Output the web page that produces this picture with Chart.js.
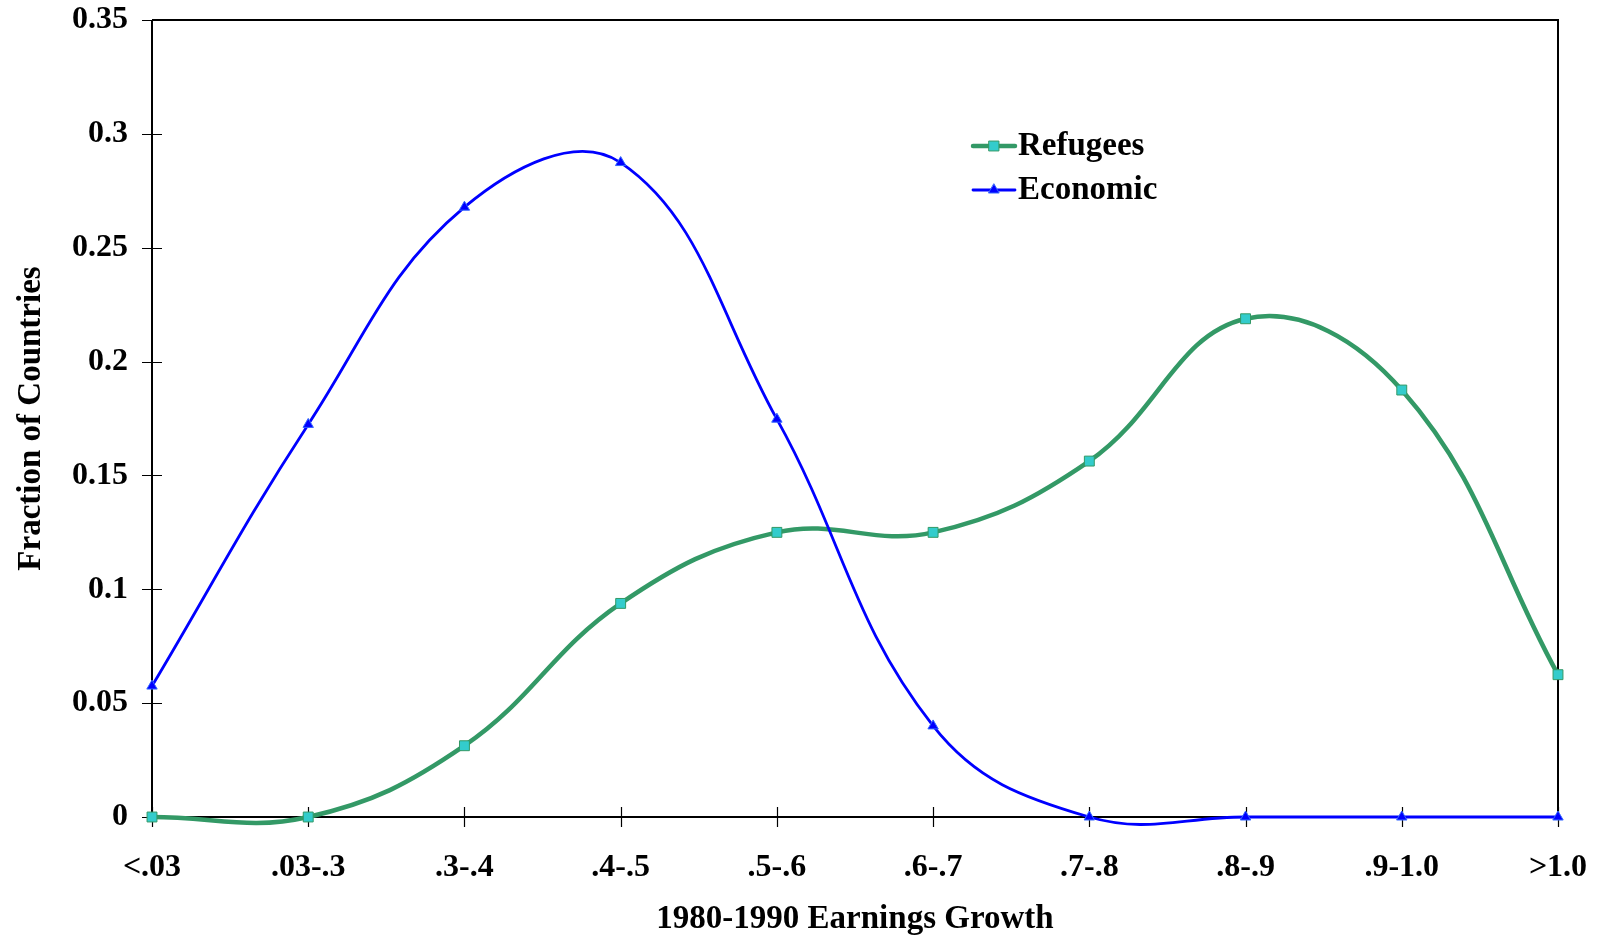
<!DOCTYPE html>
<html>
<head>
<meta charset="utf-8">
<script src="https://cdn.jsdelivr.net/npm/chart.js@4/dist/chart.umd.min.js"></script>
<style>
html,body{margin:0;padding:0;background:#fff;}
#wrap{width:1602px;height:939px;position:relative;}
</style>
</head>
<body>
<div id="wrap"><canvas id="c" width="1602" height="939"></canvas></div>
<script>
const categories = ['<.03', '.03-.3', '.3-.4', '.4-.5', '.5-.6', '.6-.7', '.7-.8', '.8-.9', '.9-1.0', '>1.0'];
const refugees = [0, 0, 0.0313, 0.0938, 0.125, 0.125, 0.1563, 0.2188, 0.1875, 0.0625];
const economic = [0.0575, 0.1724, 0.2678, 0.2874, 0.1747, 0.040, 0, 0, 0, 0];
const yTicks = [0, 0.05, 0.1, 0.15, 0.2, 0.25, 0.3, 0.35];
const xTitle = '1980-1990 Earnings Growth';
const yTitle = 'Fraction of Countries';
const seriesNames = ['Refugees', 'Economic'];

const FONT = '"Liberation Serif", "DejaVu Serif", serif';

const frame = {
  id: 'frame',
  beforeDatasetsDraw(chart) {
    const {ctx, chartArea: a} = chart;
    ctx.save();
    ctx.strokeStyle = '#000';
    ctx.lineWidth = 2;
    ctx.beginPath();
    ctx.moveTo(a.left, a.top); ctx.lineTo(a.right, a.top); ctx.lineTo(a.right, a.bottom);
    ctx.moveTo(a.left, a.top); ctx.lineTo(a.left, a.bottom); ctx.lineTo(a.right, a.bottom);
    ctx.stroke();
    ctx.lineWidth = 1.2;
    const xs = chart.scales.x, ys = chart.scales.y;
    ctx.beginPath();
    xs.ticks.forEach((t, i) => {
      const px = Math.round(xs.getPixelForTick(i)) + 0.5;
      ctx.moveTo(px, a.bottom - 10); ctx.lineTo(px, a.bottom + 10);
    });
    ys.ticks.forEach((t, i) => {
      const py = Math.round(ys.getPixelForTick(i)) + 0.5;
      ctx.moveTo(a.left - 10, py); ctx.lineTo(a.left + 10, py);
    });
    ctx.stroke();
    ctx.restore();
  },
  afterDraw(chart) {
    const {ctx} = chart;
    ctx.save();
    const x0 = 973, len = 42, tx = 1018;
    const ys = [146, 190];
    chart.data.datasets.forEach((ds, i) => {
      const y = ys[i];
      ctx.strokeStyle = ds.borderColor;
      ctx.lineWidth = ds.borderWidth;
      ctx.lineCap = 'round';
      ctx.beginPath(); ctx.moveTo(x0, y); ctx.lineTo(x0 + len, y); ctx.stroke();
      ctx.fillStyle = ds.pointBackgroundColor;
      ctx.strokeStyle = ds.pointBorderColor;
      ctx.lineWidth = ds.pointBorderWidth;
      Chart.helpers.drawPoint(ctx, {pointStyle: ds.pointStyle, radius: ds.pointRadius, rotation: 0, borderWidth: ds.pointBorderWidth}, x0 + len / 2, y);
      ctx.fillStyle = '#000';
      ctx.font = 'bold 33px ' + FONT;
      ctx.textBaseline = 'middle';
      ctx.textAlign = 'left';
      ctx.fillText(ds.label, tx, y);
    });
    ctx.restore();
  }
};

function noPad(s) { s.paddingTop = 0; s.paddingBottom = 0; s.paddingLeft = 0; s.paddingRight = 0; }

new Chart(document.getElementById('c'), {
  type: 'line',
  data: {
    labels: categories,
    datasets: [
      {
        label: seriesNames[0], data: refugees,
        borderColor: '#339966', borderWidth: 4.5,
        pointStyle: 'rect', pointRadius: 7, pointBackgroundColor: '#33CCCC',
        pointBorderColor: '#339966', pointBorderWidth: 1,
        tension: 0.4, capBezierPoints: false, clip: false, order: 2
      },
      {
        label: seriesNames[1], data: economic,
        borderColor: '#0000FF', borderWidth: 2.8,
        pointStyle: 'triangle', pointRadius: 6, pointBackgroundColor: '#0000FF',
        pointBorderColor: '#3366FF', pointBorderWidth: 1,
        tension: 0.4, capBezierPoints: false, clip: false, order: 1
      }
    ]
  },
  options: {
    responsive: false,
    animation: false,
    devicePixelRatio: 1,
    layout: {padding: {left: 0, right: 44, top: 20, bottom: 0}},
    plugins: {legend: {display: false}, tooltip: {enabled: false}, title: {display: false}},
    scales: {
      x: {
        type: 'category', offset: false,
        grid: {display: false, drawTicks: false},
        border: {display: false},
        ticks: {color: '#000', font: {family: FONT, size: 32, weight: 'bold'}, padding: 32, maxRotation: 0, autoSkip: false},
        title: {display: true, text: xTitle, color: '#000', font: {family: FONT, size: 33, weight: 'bold'}, padding: {top: 12, bottom: 0}},
        afterFit(s) { s.height = 122; noPad(s); }
      },
      y: {
        min: 0, max: 0.35,
        grid: {display: false, drawTicks: false},
        border: {display: false},
        afterBuildTicks(s) { s.ticks = yTicks.map(v => ({value: v})); },
        ticks: {color: '#000', font: {family: FONT, size: 32, weight: 'bold'}, padding: 24,
          callback: v => String(Number(v.toFixed(2)))},
        title: {display: true, text: yTitle, color: '#000', font: {family: FONT, size: 33, weight: 'bold'}, padding: {top: 12, bottom: 0}},
        afterFit(s) { s.width = 152; noPad(s); }
      }
    }
  },
  plugins: [frame]
});
</script>
</body>
</html>
